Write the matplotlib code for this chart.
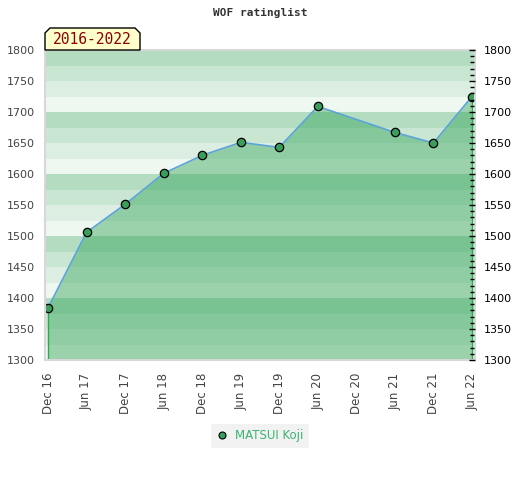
import matplotlib.pyplot as plt
from matplotlib.patches import Polygon, Rectangle
from matplotlib.ticker import MultipleLocator
import numpy as np

# half-year tick labels (months since Dec 2016)
tick_labels = ['Dec 16', 'Jun 17', 'Dec 17', 'Jun 18', 'Dec 18', 'Jun 19',
               'Dec 19', 'Jun 20', 'Dec 20', 'Jun 21', 'Dec 21', 'Jun 22']
tick_months = [0, 6, 12, 18, 24, 30, 36, 42, 48, 54, 60, 66]

# rating list entries
point_months = [0, 6, 12, 18, 24, 30, 36, 42, 54, 60, 66]
ratings = [1384, 1506, 1551, 1601, 1630, 1651, 1643, 1709, 1667, 1650, 1725]
player = 'MATSUI Koji'

W, H = 520, 480
fig = plt.figure(figsize=(W / 100, H / 100), dpi=100)
ax = fig.add_axes([45 / W, 1 - 360 / H, 430 / W, 310 / H])

ax.set_xlim(-0.47, 66.47)
ax.set_ylim(1300, 1800)

# striped background, four shades per 100 points
stripe_cols = ['#b3dcc0', '#c8e6d2', '#dbeee1', '#eef7f0']
for top in range(1800, 1300, -25):
    k = ((1800 - top) // 25) % 4
    ax.axhspan(top - 25, top, color=stripe_cols[k], lw=0, zorder=0)

# area under the curve
ax.fill_between(point_months, ratings, 1300, color='#29a050', alpha=0.42,
                lw=0, zorder=1)
ax.plot([point_months[0]] * 2, [1300, ratings[0]], color='#2daa4f', lw=1, zorder=2)
ax.plot([point_months[-1]] * 2, [1300, ratings[-1]], color='#2daa4f', lw=1, zorder=2)
ax.plot(point_months, ratings, color='#5ba3d9', lw=1.2, zorder=3)
ax.plot(point_months, ratings, 'o', ms=6, mfc='#3a9e5a', mec='black',
        mew=0.9, zorder=4, label=player)

for s in ax.spines.values():
    s.set_visible(False)
ax.add_patch(Rectangle((0, 0), 1, 1, transform=ax.transAxes, fill=False,
                       ec='#d8d8d8', lw=1.5, zorder=5, clip_on=False))

ax.set_xticks(tick_months)
ax.set_xticklabels(tick_labels, rotation=90, fontsize=8.5, color='#444444')
ax.tick_params(axis='x', length=0, pad=9)
ax.set_yticks(range(1300, 1801, 50))
ax.tick_params(axis='y', length=0, pad=7, labelsize=8, labelcolor='#444444')

ax2 = ax.twinx()
ax2.set_ylim(1300, 1800)
for s in ax2.spines.values():
    s.set_visible(False)
ax2.spines['right'].set_position(('data', 66))
ax2.yaxis.set_major_locator(MultipleLocator(50))
ax2.yaxis.set_minor_locator(MultipleLocator(10))
ax2.tick_params(axis='y', which='major', direction='inout', length=5,
                width=1, labelsize=8, labelcolor='black', pad=6)
ax2.tick_params(axis='y', which='minor', direction='inout', length=3, width=1)

fig.text(260 / W, 1 - 13 / H, 'WOF ratinglist', ha='center', va='center',
         fontsize=8, fontweight='bold', family='DejaVu Sans Mono', color='#333333')

# period label box with chamfered top corners
bx = [45, 45, 50, 135, 140, 140]
by = [50, 33, 28, 28, 33, 50]
fig.patches.append(Polygon([(x / W, 1 - y / H) for x, y in zip(bx, by)],
                           closed=True, fc='#ffffcc', ec='black', lw=1,
                           transform=fig.transFigure, zorder=6))
fig.text(92 / W, 1 - 40 / H, '2016-2022', ha='center', va='center',
         fontsize=10.5, family='DejaVu Sans Mono', color='#8b0000', zorder=7)

leg = fig.legend(loc='center', bbox_to_anchor=(260 / W, 1 - 436 / H),
                 frameon=True, fancybox=False, facecolor='#efefef',
                 edgecolor='none', fontsize=8.5, handlelength=1,
                 handletextpad=0.6, borderpad=0.45)
for t in leg.get_texts():
    t.set_color('#3cb371')
for h in leg.legend_handles:
    h.set_markersize(5)
    h.set_markeredgewidth(0.8)

fig.savefig('out.png', dpi=100)
